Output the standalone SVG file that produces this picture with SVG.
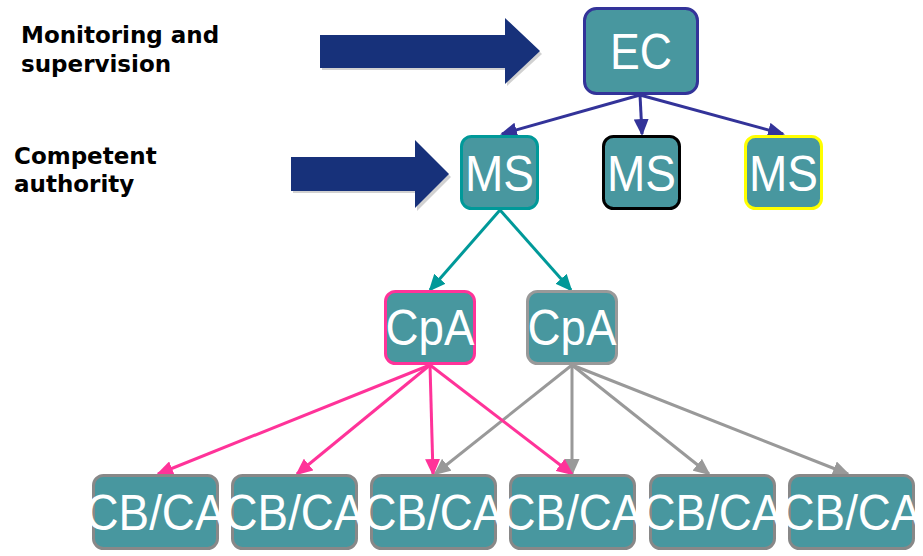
<svg xmlns="http://www.w3.org/2000/svg" width="923" height="556" viewBox="0 0 923 556">
<style>
.box{fill:#48979f;stroke-width:3}
.nt{fill:#ffffff;font-family:"Liberation Sans",Arial,sans-serif;font-size:50px;text-anchor:middle}
.lbl{fill:#000000;font-family:"DejaVu Sans",Verdana,sans-serif;font-weight:bold;font-size:23px}
.big{fill:#17317a}
.sh{fill:#000000;opacity:0.18}
.c{fill:none;stroke-width:3}
</style>
<defs>
<marker id="mB" markerUnits="userSpaceOnUse" markerWidth="17" markerHeight="15" refX="15" refY="7.5" orient="auto"><path d="M0,0 L17,7.5 L0,15 Z" fill="#333399"/></marker>
<marker id="mT" markerUnits="userSpaceOnUse" markerWidth="17" markerHeight="15" refX="15" refY="7.5" orient="auto"><path d="M0,0 L17,7.5 L0,15 Z" fill="#009999"/></marker>
<marker id="mP" markerUnits="userSpaceOnUse" markerWidth="17" markerHeight="15" refX="15" refY="7.5" orient="auto"><path d="M0,0 L17,7.5 L0,15 Z" fill="#ff3399"/></marker>
<marker id="mG" markerUnits="userSpaceOnUse" markerWidth="17" markerHeight="15" refX="15" refY="7.5" orient="auto"><path d="M0,0 L17,7.5 L0,15 Z" fill="#999999"/></marker>
</defs>

<g id="labels">
<text class="lbl" x="21" y="43">Monitoring and</text>
<text class="lbl" x="21" y="72">supervision</text>
<text class="lbl" x="14" y="164">Competent</text>
<text class="lbl" x="14" y="192">authority</text>
</g>

<g id="bigarrow1">
<polygon class="sh" points="322,38 507,38 507,21 542,54 507,86 507,70 322,70"/>
<polygon class="big" points="320,35 505,35 505,18 540,51 505,84 505,68 320,68"/>
</g>
<g id="bigarrow2">
<polygon class="sh" points="293,161 417,161 417,143 451,177 417,211 417,193 293,193"/>
<polygon class="big" points="291,157 415,157 415,140 449,174 415,208 415,191 291,191"/>
</g>

<g id="connectors">
<line class="c" stroke="#333399" marker-end="url(#mB)" x1="640" y1="95" x2="502" y2="134"/>
<line class="c" stroke="#333399" marker-end="url(#mB)" x1="640" y1="95" x2="642" y2="134"/>
<line class="c" stroke="#333399" marker-end="url(#mB)" x1="640" y1="95" x2="783" y2="134"/>
<line class="c" stroke="#009999" marker-end="url(#mT)" x1="500" y1="210" x2="430" y2="290"/>
<line class="c" stroke="#009999" marker-end="url(#mT)" x1="500" y1="210" x2="571" y2="290"/>
<line class="c" stroke="#999999" marker-end="url(#mG)" x1="572" y1="365" x2="435" y2="474"/>
<line class="c" stroke="#999999" marker-end="url(#mG)" x1="572" y1="365" x2="572" y2="474"/>
<line class="c" stroke="#999999" marker-end="url(#mG)" x1="572" y1="365" x2="709" y2="474"/>
<line class="c" stroke="#999999" marker-end="url(#mG)" x1="572" y1="365" x2="848" y2="474"/>
<line class="c" stroke="#ff3399" marker-end="url(#mP)" x1="430" y1="365" x2="158" y2="474"/>
<line class="c" stroke="#ff3399" marker-end="url(#mP)" x1="430" y1="365" x2="297" y2="474"/>
<line class="c" stroke="#ff3399" marker-end="url(#mP)" x1="430" y1="365" x2="433" y2="474"/>
<line class="c" stroke="#ff3399" marker-end="url(#mP)" x1="430" y1="365" x2="572" y2="474"/>
</g>

<g id="EC"><rect class="box" stroke="#333399" x="584.5" y="8.5" width="113" height="85" rx="12"/><text class="nt" x="641" y="69" textLength="62" lengthAdjust="spacingAndGlyphs">EC</text></g>
<g id="MS1"><rect class="box" stroke="#009999" x="461.5" y="136.5" width="76" height="72" rx="10"/><text class="nt" x="499.5" y="191" textLength="69" lengthAdjust="spacingAndGlyphs">MS</text></g>
<g id="MS2"><rect class="box" stroke="#000000" x="603.5" y="136.5" width="76" height="72" rx="10"/><text class="nt" x="641.5" y="191" textLength="69" lengthAdjust="spacingAndGlyphs">MS</text></g>
<g id="MS3"><rect class="box" stroke="#ffff00" x="745.5" y="136.5" width="76" height="72" rx="10"/><text class="nt" x="783.5" y="191" textLength="69" lengthAdjust="spacingAndGlyphs">MS</text></g>
<g id="CpA1"><rect class="box" stroke="#ff3399" x="385.5" y="291.5" width="89" height="72" rx="10"/><text class="nt" x="430" y="345" textLength="89" lengthAdjust="spacingAndGlyphs">CpA</text></g>
<g id="CpA2"><rect class="box" stroke="#999999" x="527.5" y="291.5" width="89" height="72" rx="10"/><text class="nt" x="572" y="345" textLength="89" lengthAdjust="spacingAndGlyphs">CpA</text></g>

<g id="CBCA1"><rect class="box" stroke="#888888" x="93.5" y="475.5" width="124" height="73" rx="10"/><text class="nt" x="155.5" y="530" textLength="140" lengthAdjust="spacingAndGlyphs">CB/CA</text></g>
<g id="CBCA2"><rect class="box" stroke="#888888" x="232.5" y="475.5" width="124" height="73" rx="10"/><text class="nt" x="294.5" y="530" textLength="140" lengthAdjust="spacingAndGlyphs">CB/CA</text></g>
<g id="CBCA3"><rect class="box" stroke="#888888" x="371.5" y="475.5" width="124" height="73" rx="10"/><text class="nt" x="433.5" y="530" textLength="140" lengthAdjust="spacingAndGlyphs">CB/CA</text></g>
<g id="CBCA4"><rect class="box" stroke="#888888" x="510.5" y="475.5" width="124" height="73" rx="10"/><text class="nt" x="572.5" y="530" textLength="140" lengthAdjust="spacingAndGlyphs">CB/CA</text></g>
<g id="CBCA5"><rect class="box" stroke="#888888" x="650.5" y="475.5" width="124" height="73" rx="10"/><text class="nt" x="712.5" y="530" textLength="140" lengthAdjust="spacingAndGlyphs">CB/CA</text></g>
<g id="CBCA6"><rect class="box" stroke="#888888" x="789.5" y="475.5" width="124" height="73" rx="10"/><text class="nt" x="851.5" y="530" textLength="140" lengthAdjust="spacingAndGlyphs">CB/CA</text></g>
</svg>
